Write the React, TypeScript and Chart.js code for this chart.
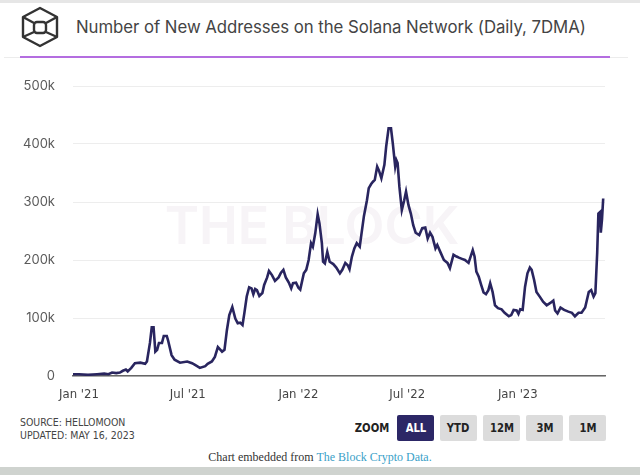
import React, { useEffect, useRef } from "react";
import { Chart, registerables } from "chart.js";

Chart.register(...registerables);

// Days since 2021-01-01
const START_DATE = "2021-01-01";
const dayOffsets = [
  -10, 0, 15, 30, 42, 49, 55, 62, 68, 73,
  78, 81, 87, 93, 102, 110, 113, 118, 121, 124,
  127, 130, 133, 138, 141, 146, 148, 154, 159, 168,
  180, 188, 193, 201, 210, 214, 221, 226, 231, 238,
  242, 246, 250, 255, 260, 264, 268, 272, 275, 279,
  283, 287, 290, 293, 296, 300, 305, 308, 313, 316,
  321, 326, 332, 336, 340, 344, 349, 353, 356, 361,
  365, 368, 374, 378, 382, 386, 389, 393, 397, 400,
  404, 406, 409, 413, 417, 423, 428, 434, 438, 443,
  447, 450, 454, 458, 462, 467, 470, 474, 479, 482,
  486, 489, 492, 496, 499, 503, 508, 511, 515, 519,
  522, 526, 528, 530, 533, 537, 541, 544, 548, 552,
  556, 560, 566, 571, 576, 580, 584, 588, 593, 596,
  601, 607, 613, 617, 623, 628, 632, 637, 642, 648,
  655, 658, 661, 665, 669, 673, 677, 681, 684, 688,
  692, 697, 703, 708, 715, 719, 723, 728, 731, 734,
  738, 742, 746, 750, 753, 757, 761, 767, 772, 778,
  784, 789, 792, 796, 801, 807, 814, 820, 825, 831,
  836, 842, 848, 852, 856, 859, 862, 864, 867, 868,
  870, 872,
];

// New addresses, thousands (7DMA)
const newAddressesK = [
  3, 3, 2, 3, 4, 3, 6, 5, 6, 9,
  11, 8, 14, 22, 23, 21, 25, 57, 84, 84,
  42, 45, 57, 57, 69, 69, 62, 36, 28, 23,
  25, 22, 19, 14, 17, 21, 25, 33, 50, 42,
  45, 79, 105, 119, 99, 91, 92, 88, 108, 137,
  153, 151, 141, 150, 148, 138, 143, 157, 170, 181,
  174, 164, 170, 178, 183, 170, 161, 151, 160, 161,
  152, 149, 177, 183, 200, 229, 223, 246, 279, 263,
  229, 197, 194, 214, 197, 193, 187, 177, 183, 195,
  191, 184, 206, 220, 229, 223, 246, 276, 303, 324,
  331, 335, 338, 361, 354, 341, 364, 396, 427, 427,
  401, 361, 372, 367, 326, 286, 303, 318, 295, 280,
  260, 247, 243, 255, 256, 237, 247, 240, 220, 226,
  214, 200, 195, 186, 209, 206, 204, 202, 200, 195,
  217, 206, 180, 171, 157, 144, 141, 148, 160, 145,
  122, 117, 115, 109, 103, 105, 114, 113, 107, 115,
  114, 154, 177, 187, 183, 166, 145, 136, 128, 122,
  126, 130, 113, 108, 118, 114, 111, 109, 103, 109,
  109, 118, 145, 148, 137, 143, 212, 280, 283, 247,
  270, 306,
];

const xTickDays = [0, 181, 365, 546, 730];
const xTickLabels = ["Jan '21", "Jul '21", "Jan '22", "Jul '22", "Jan '23"];
const yTickValues = [0, 100000, 200000, 300000, 400000, 500000];
const yTickLabels = ["0", "100k", "200k", "300k", "400k", "500k"];
const zoomButtons = ["ALL", "YTD", "12M", "3M", "1M"];

const TITLE = "Number of New Addresses on the Solana Network (Daily, 7DMA)";
const NARROW = "'Liberation Sans Narrow', 'Arial Narrow', 'DejaVu Sans Condensed', sans-serif";

const watermarkPlugin = {
  id: "watermark",
  beforeDatasetsDraw(chart: any) {
    const { ctx, chartArea } = chart;
    ctx.save();
    ctx.font = "600 52px Inter, sans-serif";
    ctx.fillStyle = "#f7f4f7";
    ctx.textAlign = "center";
    ctx.textBaseline = "middle";
    ctx.fillText("THE BLOCK", chartArea.left + 239, chartArea.top + 142);
    ctx.restore();
  },
};

function LineChart() {
  const ref = useRef<HTMLCanvasElement | null>(null);
  useEffect(() => {
    if (!ref.current) return;
    const points = dayOffsets.map((d, i) => ({ x: d, y: newAddressesK[i] * 1000 }));
    const chart = new Chart(ref.current, {
      type: "line",
      data: {
        datasets: [
          {
            label: "New addresses",
            data: points,
            borderColor: "#29255f",
            borderWidth: 2.6,
            pointRadius: 0,
            tension: 0,
            fill: false,
          },
        ],
      },
      options: {
        animation: false,
        responsive: false,
        layout: { padding: { top: 26, right: 35, left: 0, bottom: 0 } },
        plugins: { legend: { display: false }, tooltip: { enabled: false } },
        scales: {
          x: {
            type: "linear",
            min: -10,
            max: 875,
            afterBuildTicks: (s: any) => {
              s.ticks = xTickDays.map((v) => ({ value: v }));
            },
            afterFit: (s: any) => {
              s.height = 34;
            },
            grid: { display: false, drawTicks: false },
            border: { display: true, color: "#666666", width: 1.5 },
            ticks: {
              padding: 11,
              color: "#444",
              autoSkip: false,
              maxRotation: 0,
              font: { family: NARROW, size: 13 },
              callback: (v: any) => {
                const i = xTickDays.indexOf(Number(v));
                return i >= 0 ? xTickLabels[i] : "";
              },
            },
          },
          y: {
            min: 0,
            max: 500000,
            afterBuildTicks: (s: any) => {
              s.ticks = yTickValues.map((v) => ({ value: v }));
            },
            afterFit: (s: any) => {
              s.width = 73;
            },
            grid: { color: "#ededed", drawTicks: false, lineWidth: 1 },
            border: { display: false },
            ticks: {
              padding: 18,
              color: "#5a5a5a",
              font: { family: "Inter, sans-serif", size: 13 },
              callback: (v: any) => {
                const i = yTickValues.indexOf(Number(v));
                return i >= 0 ? yTickLabels[i] : "";
              },
            },
          },
        },
      },
      plugins: [watermarkPlugin],
    } as any);
    return () => chart.destroy();
  }, []);
  return (
    <canvas
      ref={ref}
      width={640}
      height={350}
      style={{ position: "absolute", left: 0, top: 60, width: 640, height: 350 }}
    />
  );
}

function Logo() {
  return (
    <svg
      width={40}
      height={42}
      viewBox="0 0 40 42"
      style={{ position: "absolute", left: 20, top: 6 }}
      fill="none"
      stroke="#333"
      strokeWidth={2.4}
      strokeLinejoin="round"
    >
      <polygon points="20,2 37,11 37,31 20,40 3,31 3,11" />
      <rect x={14} y={16} width={12} height={11} rx={3} />
      <line x1={3} y1={11} x2={14} y2={17} />
      <line x1={37} y1={11} x2={26} y2={17} />
      <line x1={3} y1={31} x2={14} y2={26} />
      <line x1={37} y1={31} x2={26} y2={26} />
    </svg>
  );
}

const squeeze = (s: number): React.CSSProperties => ({
  display: "inline-block",
  transform: `scaleX(${s})`,
  transformOrigin: "center",
});

export default function App() {
  return (
    <div
      style={{
        position: "fixed",
        left: 0,
        top: 0,
        width: 640,
        height: 475,
        background: "#ffffff",
        overflow: "hidden",
        fontFamily: "Inter, sans-serif",
      }}
    >
      <div style={{ position: "absolute", left: 0, top: 0, width: 640, height: 3, background: "#e6e6e6" }} />
      <Logo />
      <div
        style={{
          position: "absolute",
          left: 76,
          top: 17,
          fontSize: 16.8,
          lineHeight: "20px",
          letterSpacing: "-0.05px",
          color: "#444",
          whiteSpace: "nowrap",
        }}
      >
        {TITLE}
      </div>
      <div style={{ position: "absolute", left: 4, top: 57, width: 624, height: 1, background: "#ececec" }} />
      <div style={{ position: "absolute", left: 20, top: 56, width: 590, height: 2, background: "#b46de0" }} />
      <LineChart />
      <div
        style={{
          position: "absolute",
          left: 20,
          top: 416,
          fontFamily: NARROW,
          fontSize: 11,
          lineHeight: "13px",
          color: "#444",
          whiteSpace: "nowrap",
          transform: "scaleX(0.95)",
          transformOrigin: "left",
        }}
      >
        <div>SOURCE: HELLOMOON</div>
        <div>UPDATED: MAY 16, 2023</div>
      </div>
      <div
        style={{
          position: "absolute",
          left: 352,
          top: 420,
          width: 40,
          textAlign: "center",
          fontFamily: NARROW,
          fontSize: 13,
          lineHeight: "16px",
          fontWeight: 700,
          color: "#222",
        }}
      >
        <span style={squeeze(0.86)}>ZOOM</span>
      </div>
      {zoomButtons.map((b, i) => (
        <div
          key={b}
          style={{
            position: "absolute",
            left: 397 + i * 43,
            top: 415,
            width: 37,
            height: 26,
            borderRadius: 2,
            background: i === 0 ? "#2c2766" : "#dcdcdc",
            color: i === 0 ? "#ffffff" : "#222",
            fontFamily: NARROW,
            fontWeight: 700,
            fontSize: 13,
            lineHeight: "26px",
            textAlign: "center",
          }}
        >
          <span style={squeeze(0.86)}>{b}</span>
        </div>
      ))}
      <div
        style={{
          position: "absolute",
          left: 0,
          top: 450,
          width: 640,
          textAlign: "center",
          fontFamily: "'Liberation Serif', 'Times New Roman', serif",
          fontSize: 12,
          lineHeight: "14px",
          color: "#333",
        }}
      >
        Chart embedded from <span style={{ color: "#3a9fc8" }}>The Block Crypto Data.</span>
      </div>
      <div style={{ position: "absolute", left: 0, top: 467, width: 640, height: 8, background: "#cfd3cf" }} />
    </div>
  );
}
